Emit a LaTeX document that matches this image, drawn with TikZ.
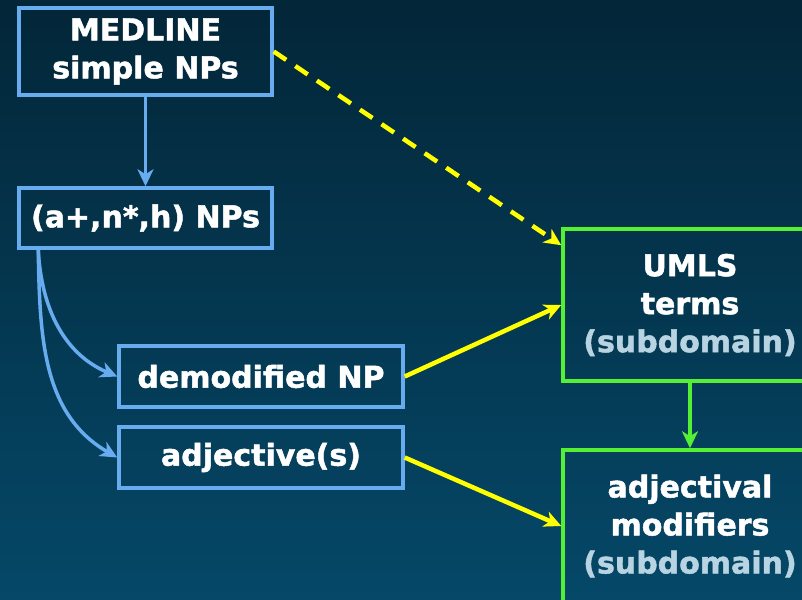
\documentclass[tikz,border=0pt]{standalone}
\usepackage{fontspec}
\setmainfont{DejaVu Sans}[BoldFeatures={FakeBold=1.6}]
\usetikzlibrary{arrows.meta,calc}
\definecolor{bgtop}{RGB}{3,38,56}
\definecolor{bgbot}{RGB}{5,72,104}
\definecolor{bbord}{RGB}{104,172,240}
\definecolor{gbord}{RGB}{84,240,52}
\definecolor{ylw}{RGB}{255,255,0}
\definecolor{subc}{RGB}{184,212,226}
\begin{document}
\begin{tikzpicture}[x=1pt,y=-1pt,
  boxtext/.style={inner sep=0pt, align=center, text=white, line width=3.5pt,
    font=\fontsize{30}{38}\selectfont\bfseries},
  bluebox/.style={boxtext, draw=bbord},
  greenbox/.style={boxtext, draw=gbord},
  barrow/.style={draw=bbord, line width=3.5pt, -{Stealth[length=17pt,width=16pt,inset=5pt]}},
  garrow/.style={draw=gbord, line width=3.5pt, -{Stealth[length=17pt,width=16pt,inset=5pt]}},
  yarrow/.style={draw=ylw, line width=4.5pt, -{Stealth[length=17pt,width=16pt,inset=5pt]}},
  ydash/.style={yarrow, dash pattern=on 15pt off 11pt}]
\useasboundingbox (0,0) rectangle (802,599);
\clip (0,0) rectangle (802,599);
\shade[top color=bgtop, bottom color=bgbot] (0,0) rectangle (802,599);

\node[bluebox, minimum width=253pt, minimum height=87pt] (med) at (145.5,51.5) {MEDLINE\\simple NPs};
\node[bluebox, minimum width=253pt, minimum height=60pt] (anp) at (145.5,218) {(a+,n*,h) NPs};
\node[bluebox, minimum width=284pt, minimum height=61pt] (dem) at (261,376.5) {demodified NP};
\node[bluebox, minimum width=284pt, minimum height=61pt] (adj) at (261,457.5) {adjective(s)};
\node[greenbox, minimum width=254pt, minimum height=152pt] (umls) at (690,305) {UMLS\\terms\\\textcolor{subc}{(subdomain)}};
\node[greenbox, minimum width=254pt, minimum height=152pt] (amod) at (690,526) {adjectival\\modifiers\\\textcolor{subc}{(subdomain)}};

\coordinate (split) at ($(anp.south west)+(21,0)$);
\coordinate (dend) at ($(umls.north west)+(0,18)$);

\draw[barrow] (med.south) -- (anp.north);
\draw[barrow] (split) to[out=-87, in=157] (dem.west);
\draw[barrow] (split) to[out=-89, in=150] (adj.west);
\draw[yarrow] (dem.east) -- (umls.west);
\draw[yarrow] (adj.east) -- (amod.west);
\draw[ydash] (med.east) -- (dend);
\draw[garrow] (umls.south) -- (amod.north);
\end{tikzpicture}
\end{document}
